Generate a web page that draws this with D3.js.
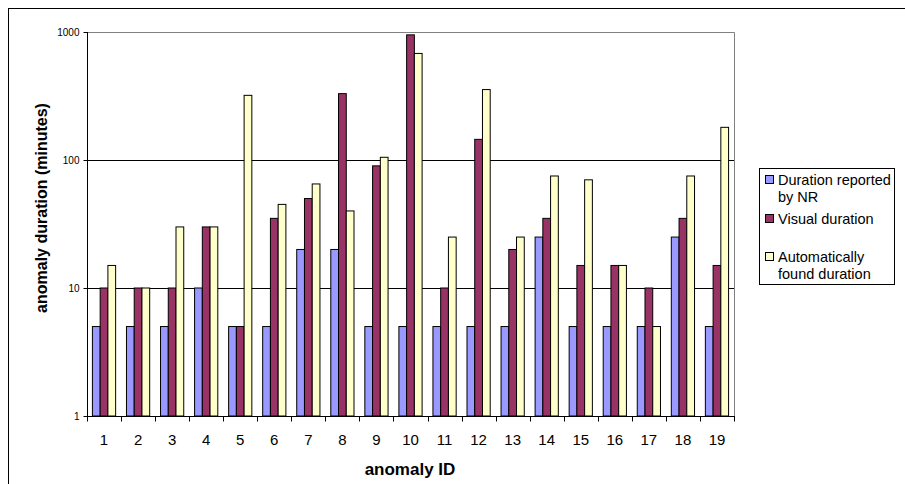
<!DOCTYPE html>
<html>
<head>
<meta charset="utf-8">
<script src="https://cdn.jsdelivr.net/npm/d3@7"></script>
<style>
  body { margin: 0; background: #fff; }
  svg { display: block; font-family: "Liberation Sans", Arial, sans-serif; }
</style>
</head>
<body>
<div id="chart"></div>
<script>
// anomaly ids along the x axis
var anomalyIds = d3.range(1, 20).map(String);

// series values (minutes)
var reportedByNR = [5, 5, 5, 10, 5, 5, 20, 20, 5, 5, 5, 5, 5, 25, 5, 5, 5, 25, 5];
var visualDuration = [10, 10, 10, 30, 5, 35, 50, 330, 90, 950, 10, 145, 20, 35, 15, 15, 10, 35, 15];
var autoDuration = [15, 10, 30, 30, 320, 45, 65, 40, 105, 680, 25, 355, 25, 75, 70, 15, 5, 75, 180];

var seriesNames = ['Duration reported by NR', 'Visual duration', 'Automatically found duration'];
var seriesColors = ['#9999ff', '#993366', '#ffffcc'];
var yTicks = [1, 10, 100, 1000];

var width = 905, height = 484;
var plot = { left: 87, right: 734, top: 32, bottom: 416 };

var svg = d3.select('#chart').append('svg')
    .attr('width', width)
    .attr('height', height);

// outer chart frame (runs off the right and bottom edges)
svg.append('rect')
    .attr('x', 8.5).attr('y', 8.5)
    .attr('width', 1000).attr('height', 1000)
    .style('fill', 'none').style('stroke', '#000');

var x = d3.scaleBand().domain(anomalyIds).range([plot.left, plot.right]);
var inner = d3.scaleBand().domain([0, 1, 2])
    .range([0, x.bandwidth()]).paddingOuter(0.7);
var y = d3.scaleLog().domain([1, 1000]).range([plot.bottom, plot.top]);

// grid lines
svg.append('g').selectAll('line')
    .data([10, 100])
    .enter().append('line')
    .attr('x1', plot.left).attr('x2', plot.right)
    .attr('y1', function(d) { return Math.round(y(d)) + 0.5; })
    .attr('y2', function(d) { return Math.round(y(d)) + 0.5; })
    .style('stroke', '#000').style('stroke-width', 1);

// plot area border (top and right)
svg.append('path')
    .attr('d', 'M' + plot.left + ',' + (plot.top + 0.5) + 'H' + (plot.right + 0.5) + 'V' + plot.bottom)
    .style('fill', 'none').style('stroke', '#808080');

// bars
var series = [reportedByNR, visualDuration, autoDuration];
series.forEach(function(values, s) {
    svg.append('g').selectAll('rect')
        .data(values)
        .enter().append('rect')
        .attr('x', function(d, i) { return x(anomalyIds[i]) + inner(s); })
        .attr('y', function(d) { return y(d); })
        .attr('width', inner.bandwidth())
        .attr('height', function(d) { return plot.bottom - y(d); })
        .style('fill', seriesColors[s])
        .style('stroke', '#000')
        .style('stroke-width', 1);
});

// y axis
var yAxis = d3.axisLeft(y).tickValues(yTicks).tickFormat(d3.format('d'))
    .tickSize(4).tickPadding(4);
var yg = svg.append('g')
    .attr('transform', 'translate(' + (plot.left + 0.5) + ',0)')
    .call(yAxis);
yg.select('.domain').attr('d', 'M0,' + plot.top + 'V' + (plot.bottom + 0.5));
yg.selectAll('text').style('font-size', '10px').style('font-family', 'inherit').attr('fill', '#000');

// x axis: ticks between categories
var xg = svg.append('g')
    .attr('transform', 'translate(0,' + (plot.bottom + 0.5) + ')');
xg.append('line')
    .attr('x1', plot.left).attr('x2', plot.right + 1)
    .style('stroke', '#000');
xg.selectAll('line.tick')
    .data(d3.range(anomalyIds.length + 1))
    .enter().append('line')
    .attr('class', 'tick')
    .attr('x1', function(i) { return Math.round(plot.left + i * x.step()) + 0.5; })
    .attr('x2', function(i) { return Math.round(plot.left + i * x.step()) + 0.5; })
    .attr('y1', 0).attr('y2', 5)
    .style('stroke', '#000');
xg.selectAll('text')
    .data(anomalyIds)
    .enter().append('text')
    .attr('x', function(d) { return x(d) + x.bandwidth() / 2; })
    .attr('y', 28.5)
    .attr('text-anchor', 'middle')
    .style('font-size', '15px')
    .text(function(d) { return d; });

// axis titles
svg.append('text')
    .attr('x', 410).attr('y', 475)
    .attr('text-anchor', 'middle')
    .style('font-size', '17px').style('font-weight', 'bold')
    .text('anomaly ID');

svg.append('text')
    .attr('transform', 'translate(47,208) rotate(-90)')
    .attr('text-anchor', 'middle')
    .style('font-size', '16px').style('font-weight', 'bold')
    .text('anomaly duration (minutes)');

// legend
var legend = svg.append('g');
legend.append('rect')
    .attr('x', 759.5).attr('y', 168.5)
    .attr('width', 135).attr('height', 116)
    .style('fill', '#fff').style('stroke', '#000');

var legendLines = [['Duration reported', 'by NR'], ['Visual duration'], ['Automatically', 'found duration']];
var legendTop = [185, 224, 262];
legendLines.forEach(function(lines, s) {
    legend.append('rect')
        .attr('x', 765.5).attr('y', legendTop[s] - 9.5)
        .attr('width', 8).attr('height', 8)
        .style('fill', seriesColors[s]).style('stroke', '#000');
    lines.forEach(function(t, k) {
        legend.append('text')
            .attr('x', 778).attr('y', legendTop[s] + k * 17)
            .style('font-size', '14.5px')
            .text(t);
    });
});
</script>
</body>
</html>
